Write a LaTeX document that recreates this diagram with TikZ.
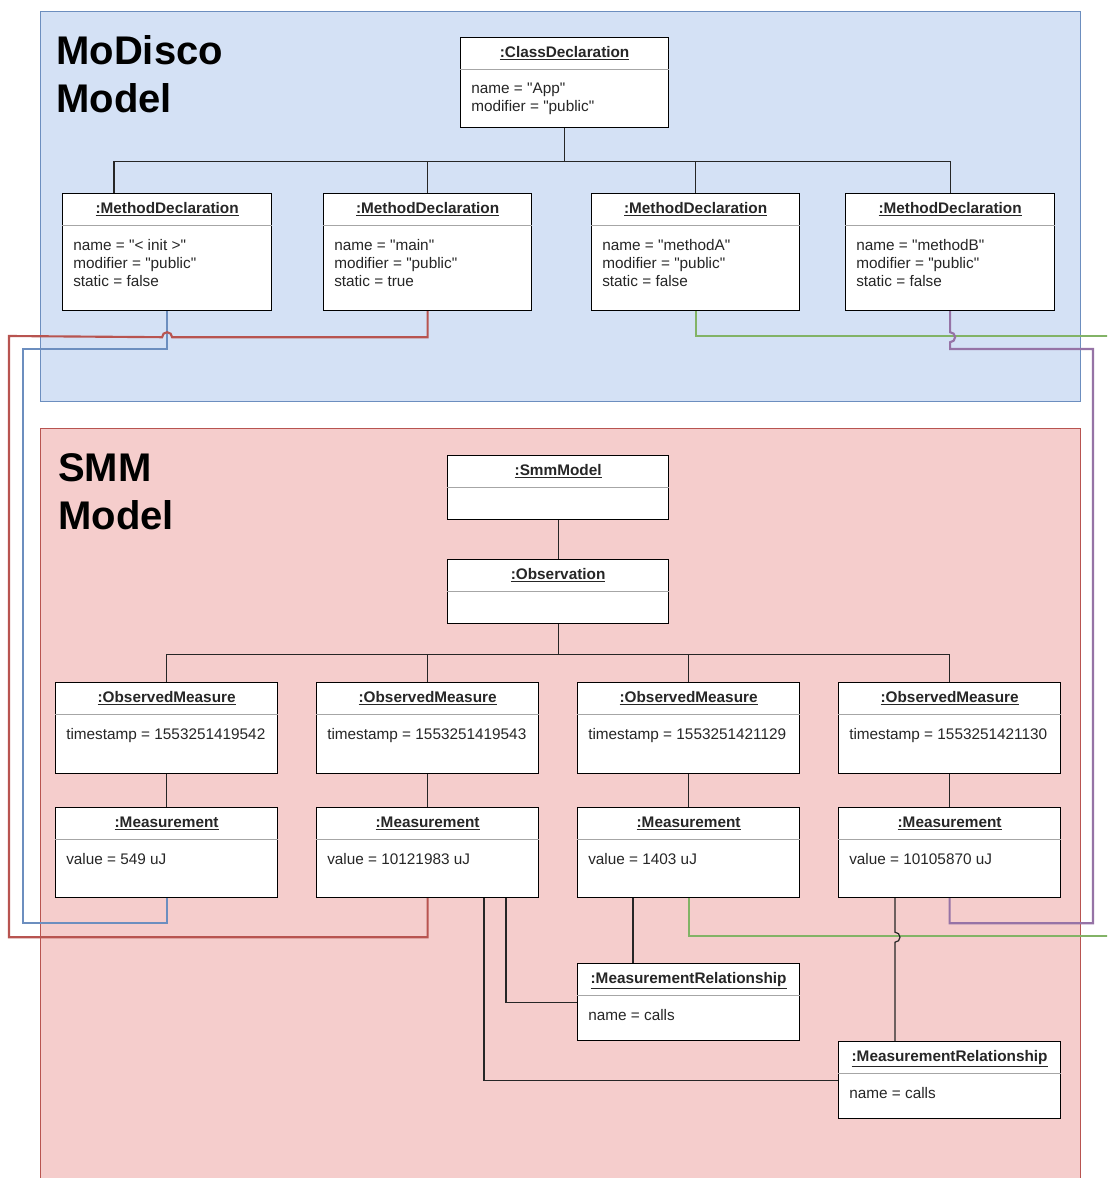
\documentclass[tikz,border=0pt]{standalone}
\usepackage{fontspec}
\setmainfont{Liberation Sans}
\usetikzlibrary{calc}
\definecolor{mdfill}{HTML}{D4E1F5}
\definecolor{mddraw}{HTML}{6C8EBF}
\definecolor{smmfill}{HTML}{F5CDCC}
\definecolor{smmdraw}{HTML}{B85450}
\definecolor{lblue}{HTML}{6C8EBF}
\definecolor{lred}{HTML}{B85450}
\definecolor{lgreen}{HTML}{82B366}
\definecolor{lpurple}{HTML}{9673A6}

\tikzset{
  objframe/.style={draw=black, fill=white, line width=0.9pt, rectangle, anchor=north west, inner sep=0pt},
  objsep/.style={draw=black!35, line width=0.6pt},
  objtitle/.style={anchor=base, inner sep=0pt, text=black!85, font=\fontsize{11.5}{13.5}\selectfont\bfseries},
  objbody/.style={anchor=north west, align=left, inner sep=0pt, text=black!85, font=\fontsize{11.5}{13.5}\selectfont},
  paneltitle/.style={anchor=north west, align=left, inner sep=0pt, font=\fontsize{30}{36}\selectfont\bfseries},
  tree/.style={draw=black!85, line width=0.9pt},
  link/.style={line width=1.6pt},
}

% straight quotes
\newcommand{\qs}[1]{\textquotedbl#1\textquotedbl}

% object box: name, left, top, width, height, title, attributes
\newcommand{\objbox}[7]{%
  \node[objframe, minimum width=#4*0.75pt, minimum height=#5*0.75pt] (#1) at (#2,#3) {};
  \draw[objsep] ($(#1.north west)+(0,32)$) -- ($(#1.north east)+(0,32)$);
  \node[objtitle] (#1-t) at ($(#1.north)+(0,20)$) {\underline{#6}};
  \node[objbody] (#1-b) at ($(#1.north west)+(11,46)$) {#7};
}

\begin{document}
\begin{tikzpicture}[x=0.75pt, y=-0.75pt]

	\clip (0,0) rectangle (1107,1178);
	\fill[white] (0,0) rectangle (1107,1178);

	% the two models
	\filldraw[fill=mdfill, draw=mddraw, line width=0.75pt] (40,11) rectangle (1080,401);
	\filldraw[fill=smmfill, draw=smmdraw, line width=0.75pt] (40,428) rectangle (1080,1190);
	\node[paneltitle] (mdtitle) at (56,35) {MoDisco\\Model};
	\node[paneltitle] (smmtitle) at (58,453) {SMM\\Model};

	% MoDisco objects
	\objbox{cd}{460}{37}{208}{90}{:ClassDeclaration}{name = \qs{App}\\modifier = \qs{public}}
	\objbox{md1}{62}{193}{209}{117}{:MethodDeclaration}{name = \qs{< init >}\\modifier = \qs{public}\\static = false}
	\objbox{md2}{323}{193}{208}{117}{:MethodDeclaration}{name = \qs{main}\\modifier = \qs{public}\\static = true}
	\objbox{md3}{591}{193}{208}{117}{:MethodDeclaration}{name = \qs{methodA}\\modifier = \qs{public}\\static = false}
	\objbox{md4}{845}{193}{209}{117}{:MethodDeclaration}{name = \qs{methodB}\\modifier = \qs{public}\\static = false}

	% SMM objects
	\objbox{smm}{447}{455}{221}{64}{:SmmModel}{}
	\objbox{obs}{447}{559}{221}{64}{:Observation}{}
	\objbox{om1}{55}{682}{222}{91}{:ObservedMeasure}{timestamp = 1553251419542}
	\objbox{om2}{316}{682}{222}{91}{:ObservedMeasure}{timestamp = 1553251419543}
	\objbox{om3}{577}{682}{222}{91}{:ObservedMeasure}{timestamp = 1553251421129}
	\objbox{om4}{838}{682}{222}{91}{:ObservedMeasure}{timestamp = 1553251421130}
	\objbox{ms1}{55}{807}{222}{90}{:Measurement}{value = 549 uJ}
	\objbox{ms2}{316}{807}{222}{90}{:Measurement}{value = 10121983 uJ}
	\objbox{ms3}{577}{807}{222}{90}{:Measurement}{value = 1403 uJ}
	\objbox{ms4}{838}{807}{222}{90}{:Measurement}{value = 10105870 uJ}
	\objbox{mr1}{577}{963}{222}{77}{:MeasurementRelationship}{name = calls}
	\objbox{mr2}{838}{1041}{222}{77}{:MeasurementRelationship}{name = calls}

	% containment trees
	\draw[tree] (cd.south) -- ++(0,33) coordinate (cdj);
	\draw[tree] (cdj) -| ($(md1.north west)+(52,0)$);
	\draw[tree] (cdj) -| (md2.north);
	\draw[tree] (cdj) -| (md3.north);
	\draw[tree] (cdj) -| (md4.north);

	\draw[tree] (smm.south) -- (obs.north);
	\draw[tree] (obs.south) -- ++(0,30) coordinate (obsj);
	\draw[tree] (obsj) -| (om1.north);
	\draw[tree] (obsj) -| (om2.north);
	\draw[tree] (obsj) -| (om3.north);
	\draw[tree] (obsj) -| (om4.north);
	\draw[tree] (om1.south) -- (ms1.north);
	\draw[tree] (om2.south) -- (ms2.north);
	\draw[tree] (om3.south) -- (ms3.north);
	\draw[tree] (om4.south) -- (ms4.north);

	% relationships
	\draw[tree] ($(ms2.south west)+(190,0)$) |- (mr1.west);
	\draw[tree] ($(ms3.south west)+(56,0)$) -- ($(mr1.north west)+(56,0)$);
	\draw[tree] ($(ms2.south west)+(168,0)$) |- (mr2.west);

	% traces between the models
	\draw[link, lblue] (md1.south) |- (23,349) |- ($(ms1.south)+(0,25)$) -- (ms1.south);
	\draw[link, lred] (md2.south) |- ($(md1.south)+(5,26)$) arc[start angle=0, end angle=-180, radius=5]
		-- (9,336) |- ($(ms2.south)+(0,39)$) -- (ms2.south);
	\draw[link, lgreen] (md3.south) |- (1120,336) -- (1120,936) -| (ms3.south);
	\draw[link, lpurple] (md4.south) -- ++(0,21) arc[start angle=-90, end angle=90, radius=5]
		|- (1093,349) |- ($(ms4.south)+(0,25)$) -- (ms4.south);

	\draw[tree] ($(ms4.south west)+(57,0)$) -- ++(0,34) arc[start angle=-90, end angle=90, radius=5]
		-- ($(mr2.north west)+(57,0)$);

\end{tikzpicture}
\end{document}
